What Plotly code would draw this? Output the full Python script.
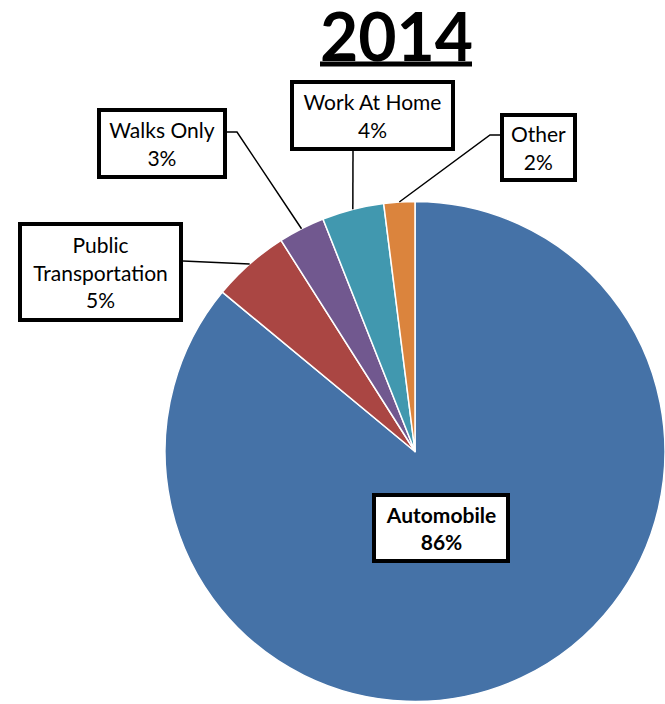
import math
import plotly.graph_objects as go

# Commute mode share, 2014
modes = ["Automobile", "Public Transportation", "Walks Only", "Work At Home", "Other"]
shares = [86, 5, 3, 4, 2]
colors = ["#4572A7", "#AA4643", "#71588F", "#4198AF", "#DB843D"]
title_text = "2014"

W, H = 665, 704
FONT = "Lato, 'Open Sans', sans-serif"

# pie placement (paper fractions)
dom_x = [165 / W, 1.0]
dom_y = [0.0, 1 - 199 / H]

fig = go.Figure(go.Pie(
    labels=modes,
    values=shares,
    sort=False,
    direction="clockwise",
    rotation=0,
    textinfo="none",
    hoverinfo="label+percent",
    marker=dict(colors=colors, line=dict(color="white", width=1.5)),
    domain=dict(x=dom_x, y=dom_y),
    showlegend=False,
))

# pixel geometry of the pie, used to anchor leader lines at slice midpoints
cx = (dom_x[0] + dom_x[1]) / 2 * W
cy = (1 - (dom_y[0] + dom_y[1]) / 2) * H
r = min((dom_x[1] - dom_x[0]) * W, (dom_y[1] - dom_y[0]) * H) / 2
total = sum(shares)


def slice_mid(i):
    start = sum(shares[:i]) / total
    mid = (start + shares[i] / total / 2) * 2 * math.pi
    return cx + r * math.sin(mid), cy - r * math.cos(mid)


def px(x):
    return x / W


def py(y):
    return 1 - y / H


# label boxes: (center x, center y, inner width, inner height, bold)
boxes = {
    "Automobile": (441, 528, 130, 62, True),
    "Public Transportation": (100.5, 272, 157, 92, False),
    "Walks Only": (162, 143.5, 122, 63, False),
    "Work At Home": (372.5, 115.5, 157, 63, False),
    "Other": (538.5, 147.5, 69, 61, False),
}
label_text = {
    "Public Transportation": "Public<br>Transportation",
}

annotations = []
for m, v in zip(modes, shares):
    bx, by, bw, bh, bold = boxes[m]
    name = label_text.get(m, m)
    txt = f"{name}<br>{v}%"
    if bold:
        txt = f"<b>{txt}</b>"
    annotations.append(dict(
        x=px(bx), y=py(by), xref="paper", yref="paper",
        xanchor="center", yanchor="middle",
        text=txt, showarrow=False, align="center",
        width=bw, height=bh, borderpad=0,
        bgcolor="white", bordercolor="black", borderwidth=4,
        font=dict(family=FONT, size=21, color="black"),
    ))

annotations.append(dict(
    x=px(396), y=py(3), xref="paper", yref="paper",
    xanchor="center", yanchor="top", height=60, valign="middle",
    text=f"<b>{title_text}</b>", showarrow=False,
    font=dict(family=FONT, size=66, color="black"),
))

# leader lines: start at the box edge (with an optional elbow), end at the slice midpoint
leaders = {
    "Public Transportation": [(183, 261)],
    "Walks Only": [(227, 132), (237, 132)],
    "Work At Home": [(353, 151)],
    "Other": [(500, 135), (490, 135)],
}
shapes = []
for m, pts in leaders.items():
    ex, ey = slice_mid(modes.index(m))
    path_pts = pts + [(ex, ey)]
    d = "M " + " L ".join(f"{px(x):.5f},{py(y):.5f}" for x, y in path_pts)
    shapes.append(dict(type="path", path=d, xref="paper", yref="paper",
                       line=dict(color="black", width=1.5)))

# title underline
shapes.append(dict(type="line", xref="paper", yref="paper",
                   x0=px(320), x1=px(472), y0=py(64), y1=py(64),
                   line=dict(color="black", width=5)))

fig.update_layout(
    width=W, height=H,
    margin=dict(l=0, r=0, t=0, b=0),
    paper_bgcolor="white",
    plot_bgcolor="white",
    annotations=annotations,
    shapes=shapes,
    xaxis=dict(visible=False, range=[0, 1]),
    yaxis=dict(visible=False, range=[0, 1]),
)

fig.write_html("out.html")
